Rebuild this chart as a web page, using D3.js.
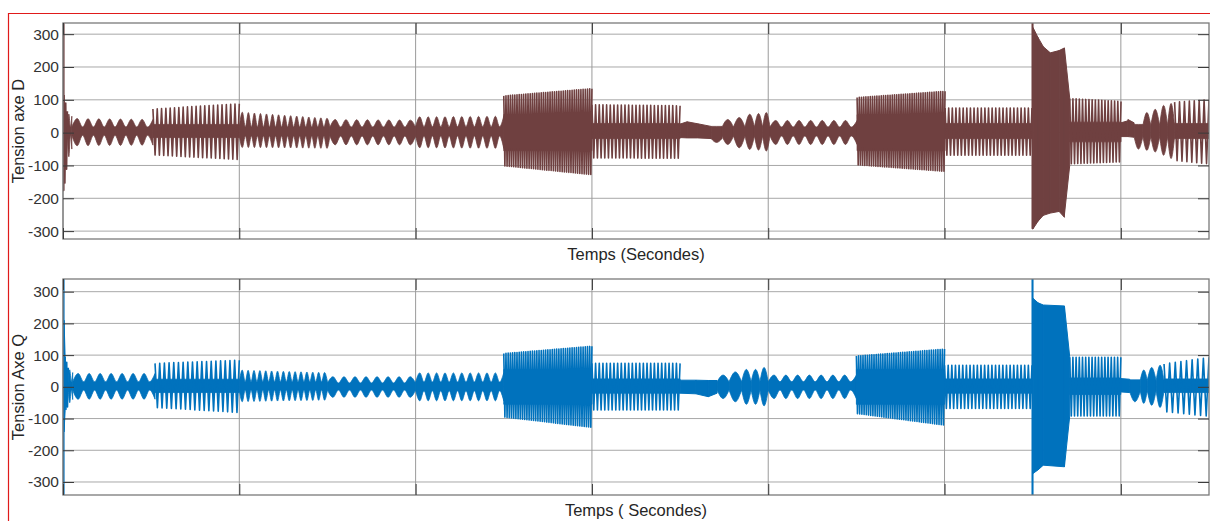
<!DOCTYPE html>
<html><head><meta charset="utf-8">
<script src="https://cdn.jsdelivr.net/npm/d3@7"></script>
<style>
body{margin:0;background:#fff;}
svg{display:block;font-family:"Liberation Sans",Arial,Helvetica,sans-serif;}
</style>
</head><body>
<svg id="c" width="1210" height="521"></svg>
<script>
// ---------------- data ----------------
const yTicks = [-300, -200, -100, 0, 100, 200, 300];
const xGridTicks = [0, 1, 2, 3, 4, 5, 6];      // time grid, no labels shown
const xDomain = [0, 6.5];
const yDomainD = [-324, 334];
const yDomainQ = [-341, 340];
const yLabelD = "Tension axe D";
const yLabelQ = "Tension Axe Q";
const xLabelD = "Temps (Secondes)";
const xLabelQ = "Temps ( Secondes)";

// segment rows: [t0, t1, kind, cycles, hiStart, hiEnd, loStart, loEnd, coreHi, coreLo]
const segmentsD = [
  [0.000, 0.006, "solid", 0, 334, 334, -177, -177, 0, 0],
  [0.006, 0.025, "teeth", 2, 115, 65, -175, -90, 20, -20],
  [0.025, 0.050, "beat", 1.5, 60, 50, -85, -50, 17, -8],
  [0.050, 0.510, "beat", 7.5, 43, 40, -40, -38, 17, -8],
  [0.510, 1.000, "teeth", 20, 72, 88, -68, -82, 25, -15],
  [1.000, 1.514, "beat", 15, 63, 43, -45, -48, 17, -10],
  [1.514, 2.000, "beat", 8, 40, 38, -37, -37, 17, -10],
  [2.000, 2.500, "beat", 10.5, 48, 50, -46, -48, 18, -10],
  [2.500, 3.000, "teeth", 40, 112, 134, -101, -128, 55, -55],
  [3.000, 3.500, "teeth", 24, 85, 82, -77, -78, 28, -18],
  [3.500, 3.540, "solid", 0, 26, 33, -15, -16, 0, 0],
  [3.540, 3.600, "solid", 0, 33, 27, -16, -16, 0, 0],
  [3.600, 3.676, "solid", 0, 27, 19, -16, -18, 0, 0],
  [3.676, 3.738, "beat", 1, 19, 19, -30, -30, 19, -18],
  [3.738, 3.803, "beat", 1, 40, 40, -36, -36, 17, -10],
  [3.803, 3.868, "beat", 1, 46, 46, -46, -46, 17, -10],
  [3.868, 3.922, "beat", 1, 56, 56, -51, -51, 17, -10],
  [3.922, 3.968, "beat", 1, 58, 58, -53, -53, 17, -10],
  [3.968, 4.010, "beat", 1, 61, 61, -56, -56, 17, -10],
  [4.010, 4.504, "beat", 7.5, 37, 37, -36, -36, 17, -10],
  [4.504, 5.003, "teeth", 40, 107, 126, -98, -118, 55, -55],
  [5.003, 5.496, "teeth", 24, 75, 75, -69, -69, 28, -18],
  [5.496, 5.502, "solid", 0, 334, 334, -293, -293, 0, 0],
  [5.502, 5.530, "solid", 0, 320, 290, -293, -270, 0, 0],
  [5.530, 5.560, "solid", 0, 290, 262, -270, -252, 0, 0],
  [5.560, 5.600, "solid", 0, 262, 243, -252, -245, 0, 0],
  [5.600, 5.650, "solid", 0, 243, 250, -245, -240, 0, 0],
  [5.650, 5.680, "solid", 0, 250, 258, -240, -258, 0, 0],
  [5.680, 5.710, "solid", 0, 258, 105, -250, -100, 0, 0],
  [5.710, 6.001, "teeth", 16, 104, 95, -95, -89, 32, -28],
  [6.001, 6.040, "solid", 0, 30, 36, -12, -12, 0, 0],
  [6.040, 6.075, "solid", 0, 40, 30, -12, -14, 0, 0],
  [6.075, 6.125, "beat", 1, 25, 25, -50, -50, 25, -12],
  [6.125, 6.170, "beat", 1, 61, 61, -54, -54, 22, -12],
  [6.170, 6.220, "beat", 1, 71, 71, -59, -59, 22, -12],
  [6.220, 6.265, "beat", 1, 83, 83, -69, -69, 22, -12],
  [6.265, 6.305, "beat", 1, 89, 89, -79, -79, 22, -12],
  [6.305, 6.500, "teeth", 7, 93, 100, -85, -95, 28, -18]
];

const segmentsQ = [
  [0.000, 0.006, "solid", 0, 340, 340, -341, -341, 0, 0],
  [0.006, 0.012, "solid", 0, 210, 95, -142, -75, 0, 0],
  [0.012, 0.030, "teeth", 2, 95, 60, -75, -60, 15, -15],
  [0.030, 0.055, "beat", 1.5, 58, 45, -55, -40, 16, -10],
  [0.055, 0.522, "beat", 7.5, 42, 42, -39, -39, 16, -10],
  [0.522, 1.000, "teeth", 18, 74, 84, -65, -81, 24, -18],
  [1.000, 1.500, "beat", 15, 53, 45, -47, -42, 16, -10],
  [1.500, 2.000, "beat", 8, 32, 32, -33, -33, 12, -10],
  [2.000, 2.500, "beat", 10.5, 44, 44, -44, -44, 15, -12],
  [2.500, 3.000, "teeth", 40, 105, 128, -95, -128, 55, -55],
  [3.000, 3.500, "teeth", 24, 74, 74, -73, -73, 25, -20],
  [3.500, 3.590, "solid", 0, 21, 21, -20, -22, 0, 0],
  [3.590, 3.660, "solid", 0, 21, 20, -22, -31, 0, 0],
  [3.660, 3.710, "solid", 0, 20, 20, -31, -20, 0, 0],
  [3.710, 3.778, "beat", 1, 37, 37, -37, -37, 16, -10],
  [3.778, 3.849, "beat", 1, 47, 47, -47, -47, 16, -10],
  [3.849, 3.903, "beat", 1, 55, 55, -55, -55, 16, -10],
  [3.903, 3.953, "beat", 1, 55, 55, -55, -55, 16, -10],
  [3.953, 4.000, "beat", 1, 61, 61, -60, -60, 16, -10],
  [4.000, 4.500, "beat", 7.5, 37, 37, -37, -37, 16, -10],
  [4.500, 5.000, "teeth", 40, 97, 119, -84, -121, 55, -55],
  [5.000, 5.496, "teeth", 24, 68, 68, -68, -68, 25, -20],
  [5.496, 5.502, "solid", 0, 340, 340, -341, -341, 0, 0],
  [5.502, 5.530, "solid", 0, 279, 265, -273, -262, 0, 0],
  [5.530, 5.560, "solid", 0, 265, 258, -262, -247, 0, 0],
  [5.560, 5.680, "solid", 0, 258, 255, -247, -252, 0, 0],
  [5.680, 5.710, "solid", 0, 255, 95, -252, -92, 0, 0],
  [5.710, 6.000, "teeth", 16, 93, 93, -92, -92, 28, -24],
  [6.000, 6.050, "solid", 0, 26, 24, -16, -18, 0, 0],
  [6.050, 6.110, "beat", 1, 22, 22, -47, -47, 22, -15],
  [6.110, 6.150, "beat", 1, 53, 53, -52, -52, 20, -12],
  [6.150, 6.200, "beat", 1, 61, 61, -58, -58, 20, -12],
  [6.200, 6.245, "beat", 1, 68, 68, -65, -65, 20, -12],
  [6.245, 6.500, "teeth", 8, 72, 93, -78, -93, 25, -18]
];

// ---------------- drawing ----------------
const svg = d3.select("#c");
const L = 63, R = 1209;

// red selection frame
svg.append("path")
  .attr("d", "M1210,13.5 H8.5 V521")
  .attr("fill", "none").attr("stroke", "#e01a1a").attr("stroke-width", 1.2);

function drawPanel(id, segs, yDomain, color, top, bottom, yLabel, xLabel) {
  const x = d3.scaleLinear().domain(xDomain).range([L, R]);
  const y = d3.scaleLinear().domain(yDomain).range([bottom, top]);
  const g = svg.append("g");

  // grid
  g.append("g").selectAll("line").data(yTicks).join("line")
    .attr("x1", L).attr("x2", R)
    .attr("y1", d => y(d)).attr("y2", d => y(d))
    .attr("stroke", "#a8a8a8").attr("stroke-width", 1);
  g.append("g").selectAll("line").data(xGridTicks).join("line")
    .attr("y1", top).attr("y2", bottom)
    .attr("x1", d => x(d)).attr("x2", d => x(d))
    .attr("stroke", "#9a9a9a").attr("stroke-width", 1);

  // clip
  svg.append("clipPath").attr("id", id)
    .append("rect").attr("x", L).attr("y", top).attr("width", R - L).attr("height", bottom - top);
  const data = g.append("g").attr("clip-path", `url(#${id})`);

  const lerp = (a, b, f) => a + (b - a) * f;
  segs.forEach(s => {
    const [t0, t1, kind, n, hi0, hi1, lo0, lo1, cHi, cLo] = s;
    if (kind === "solid") {
      const pts = [[t0, hi0, lo0], [t1, hi1, lo1]];
      data.append("path")
        .attr("d", d3.area().x(d => x(d[0])).y0(d => y(d[2])).y1(d => y(d[1]))(pts))
        .attr("fill", color).attr("stroke", color).attr("stroke-width", 1);
    } else if (kind === "teeth") {
      data.append("path")
        .attr("d", d3.area().x(d => x(d)).y0(y(cLo)).y1(y(cHi))([t0, t1]))
        .attr("fill", color).attr("stroke", color).attr("stroke-width", 0.8);
      const m = Math.round(2 * n);
      const pts = d3.range(m + 1).map(k => {
        const f = k / m;
        return [lerp(t0, t1, f), k % 2 === 0 ? lerp(hi0, hi1, f) : lerp(lo0, lo1, f)];
      });
      data.append("path")
        .attr("d", d3.line().x(d => x(d[0])).y(d => y(d[1]))(pts))
        .attr("fill", "none").attr("stroke", color).attr("stroke-width", 1.6)
        .attr("stroke-linejoin", "round");
    } else if (kind === "beat") {
      const m = Math.round(2 * n);
      const pts = d3.range(m + 1).map(k => {
        const f = k / m;
        return k % 2 === 1
          ? [lerp(t0, t1, f), lerp(hi0, hi1, f), lerp(lo0, lo1, f)]
          : [lerp(t0, t1, f), cHi, cLo];
      });
      data.append("path")
        .attr("d", d3.area().curve(d3.curveMonotoneX)
          .x(d => x(d[0])).y0(d => y(d[2])).y1(d => y(d[1]))(pts))
        .attr("fill", color).attr("stroke", color).attr("stroke-width", 0.8);
    }
  });

  // box
  g.append("rect").attr("x", L).attr("y", top).attr("width", R - L).attr("height", bottom - top)
    .attr("fill", "none").attr("stroke", "#7a7a7a").attr("stroke-width", 1.3);

  // axes with inward ticks
  const fmt = d => String(d);
  const yl = g.append("g").attr("transform", `translate(${L},0)`)
    .call(d3.axisLeft(y).tickValues(yTicks).tickSize(-11).tickSizeOuter(0).tickPadding(4).tickFormat(fmt));
  const yr = g.append("g").attr("transform", `translate(${R},0)`)
    .call(d3.axisRight(y).tickValues(yTicks).tickSize(-11).tickSizeOuter(0).tickFormat(""));
  const xb = g.append("g").attr("transform", `translate(0,${bottom})`)
    .call(d3.axisBottom(x).tickValues(xGridTicks).tickSize(-11).tickSizeOuter(0).tickFormat(""));
  const xt = g.append("g").attr("transform", `translate(0,${top})`)
    .call(d3.axisTop(x).tickValues(xGridTicks).tickSize(-11).tickSizeOuter(0).tickFormat(""));
  [yl, yr, xb, xt].forEach(a => {
    a.select(".domain").remove();
    a.selectAll(".tick line").attr("stroke", "#3a3a3a");
  });
  yl.selectAll(".tick text").attr("font-size", 15.5).attr("fill", "#333")
    .attr("font-family", "Liberation Sans, Arial, sans-serif");

  // labels
  g.append("text").attr("x", (L + R) / 2).attr("y", bottom + 21)
    .attr("text-anchor", "middle").attr("font-size", 16.5).attr("fill", "#262626")
    .text(xLabel);
  g.append("text")
    .attr("transform", `translate(24,${(top + bottom) / 2}) rotate(-90)`)
    .attr("text-anchor", "middle").attr("font-size", 16.5).attr("fill", "#262626")
    .text(yLabel);
}

drawPanel("clipD", segmentsD, yDomainD, "#6f4040", 23, 239, yLabelD, xLabelD);
drawPanel("clipQ", segmentsQ, yDomainQ, "#0072bd", 279, 495, yLabelQ, xLabelQ);
</script>
</body></html>
